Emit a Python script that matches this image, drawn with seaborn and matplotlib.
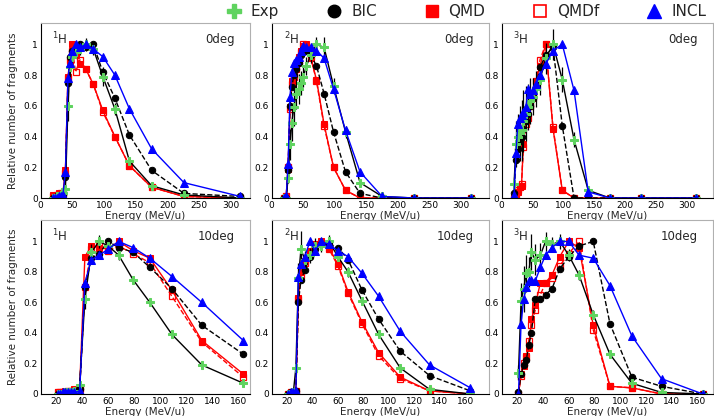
import numpy as np
import pandas as pd
import matplotlib
matplotlib.use("Agg")
import matplotlib.pyplot as plt
from matplotlib.ticker import MultipleLocator, FixedLocator
from matplotlib.lines import Line2D
import seaborn as sns

# energy bins (MeV/u)
E_top = [20, 23, 26, 29, 32, 35, 39, 43, 46, 50, 55, 62, 71, 83, 98, 117, 140, 175, 226, 315]
E_bot = [21, 23, 25, 27, 29, 31, 34, 38, 42, 47, 53, 60, 68, 79, 92, 109, 132, 164]

# 1H, 0deg
h1_0_exp = [0.0, 0.0, 0.01, 0.01, 0.02, 0.03, 0.06, 0.6, 0.85, 0.92, 0.95, 0.97, 1.0, 0.97, 0.79, 0.58, 0.24, 0.08, 0.02, 0.0]
h1_0_err = [0, 0, 0, 0, 0, 0, 0.02, 0.1, 0.06, 0.05, 0.04, 0.04, 0.04, 0.04, 0.06, 0.04, 0.02, 0.01, 0, 0]
h1_0_bic = [0.0, 0.0, 0.01, 0.01, 0.02, 0.02, 0.14, 0.75, 0.92, 0.96, 0.97, 1.0, 0.98, 1.0, 0.82, 0.65, 0.41, 0.18, 0.03, 0.01]
h1_0_qmd = [0.02, 0.02, 0.02, 0.03, 0.03, 0.03, 0.18, 0.79, 0.89, 1.0, 0.93, 0.87, 0.84, 0.74, 0.57, 0.4, 0.21, 0.07, 0.01, 0.0]
h1_0_qmdf = [0.01, 0.01, 0.02, 0.02, 0.03, 0.03, 0.16, 0.78, 0.9, 0.96, 0.82, 0.9, 0.84, 0.74, 0.56, 0.4, 0.21, 0.07, 0.01, 0.0]
h1_0_incl = [0.0, 0.0, 0.0, 0.01, 0.01, 0.02, 0.17, 0.78, 0.88, 0.96, 1.0, 0.98, 1.0, 0.97, 0.92, 0.8, 0.58, 0.32, 0.1, 0.01]

# 2H, 0deg
h2_0_exp = [0.0, 0.0, 0.13, 0.35, 0.49, 0.59, 0.68, 0.71, 0.75, 0.79, 0.86, 0.93, 1.0, 0.98, 0.73, 0.43, 0.1, 0.01, 0.0, 0.0]
h2_0_err = [0, 0, 0.03, 0.1, 0.12, 0.12, 0.1, 0.1, 0.08, 0.07, 0.06, 0.05, 0.05, 0.07, 0.05, 0.04, 0.02, 0, 0, 0]
h2_0_bic = [0.0, 0.0, 0.18, 0.6, 0.72, 0.8, 0.84, 0.88, 0.93, 0.97, 0.96, 0.93, 0.86, 0.68, 0.43, 0.17, 0.03, 0.0, 0.0, 0.0]
h2_0_qmd = [0.0, 0.01, 0.19, 0.59, 0.76, 0.79, 0.85, 0.92, 0.96, 0.99, 1.0, 0.91, 0.77, 0.48, 0.2, 0.05, 0.0, 0.0, 0.0, 0.0]
h2_0_qmdf = [0.0, 0.01, 0.2, 0.58, 0.74, 0.8, 0.84, 0.9, 0.95, 1.0, 0.99, 0.92, 0.76, 0.47, 0.2, 0.05, 0.0, 0.0, 0.0, 0.0]
h2_0_incl = [0.0, 0.01, 0.22, 0.66, 0.82, 0.88, 0.9, 0.92, 0.96, 0.99, 0.98, 0.98, 0.96, 0.91, 0.71, 0.44, 0.17, 0.01, 0.0, 0.0]

# 3H, 0deg
h3_0_exp = [0.09, 0.35, 0.4, 0.42, 0.44, 0.5, 0.55, 0.59, 0.63, 0.66, 0.71, 0.77, 0.91, 1.0, 0.77, 0.38, 0.05, 0.0, 0.0, 0.0]
h3_0_err = [0.05, 0.15, 0.15, 0.18, 0.2, 0.2, 0.18, 0.15, 0.15, 0.12, 0.12, 0.1, 0.1, 0.1, 0.08, 0.05, 0.02, 0, 0, 0]
h3_0_bic = [0.03, 0.25, 0.32, 0.37, 0.4, 0.45, 0.5, 0.55, 0.6, 0.65, 0.72, 0.85, 0.93, 0.98, 0.47, 0.0, 0.0, 0.0, 0.0, 0.0]
h3_0_qmd = [0.0, 0.02, 0.04, 0.07, 0.08, 0.35, 0.5, 0.53, 0.6, 0.65, 0.76, 0.86, 1.0, 0.45, 0.05, 0.0, 0.0, 0.0, 0.0, 0.0]
h3_0_qmdf = [0.0, 0.02, 0.05, 0.07, 0.09, 0.33, 0.48, 0.52, 0.6, 0.66, 0.76, 0.9, 1.0, 0.46, 0.05, 0.0, 0.0, 0.0, 0.0, 0.0]
h3_0_incl = [0.02, 0.29, 0.48, 0.52, 0.54, 0.56, 0.59, 0.71, 0.68, 0.7, 0.74, 0.8, 0.87, 0.96, 1.0, 0.7, 0.04, 0.0, 0.0, 0.0]

# 1H, 10deg
h1_10_exp = [0.0, 0.0, 0.0, 0.01, 0.01, 0.01, 0.02, 0.06, 0.62, 0.93, 1.0, 0.97, 0.91, 0.75, 0.6, 0.39, 0.19, 0.07]
h1_10_err = [0, 0, 0, 0, 0, 0, 0, 0.01, 0.06, 0.05, 0.04, 0.04, 0.03, 0.02, 0.02, 0.01, 0.01, 0]
h1_10_bic = [0.0, 0.0, 0.0, 0.01, 0.01, 0.01, 0.02, 0.03, 0.7, 0.89, 0.92, 1.0, 0.96, 0.93, 0.83, 0.69, 0.45, 0.26]
h1_10_qmd = [0.01, 0.01, 0.01, 0.02, 0.02, 0.02, 0.03, 0.04, 0.9, 0.97, 0.96, 0.95, 1.0, 0.94, 0.89, 0.68, 0.35, 0.13]
h1_10_qmdf = [0.01, 0.01, 0.01, 0.01, 0.02, 0.02, 0.02, 0.03, 0.7, 0.95, 0.98, 0.94, 0.97, 0.92, 0.86, 0.64, 0.34, 0.11]
h1_10_incl = [0.0, 0.0, 0.01, 0.01, 0.01, 0.01, 0.01, 0.02, 0.73, 0.88, 0.91, 0.95, 1.0, 0.96, 0.89, 0.77, 0.6, 0.35]

# 2H, 10deg
h2_10_exp = [0.0, 0.0, 0.01, 0.17, 0.76, 0.95, 0.88, 0.91, 0.97, 0.97, 1.0, 0.9, 0.8, 0.61, 0.39, 0.17, 0.03, 0.0]
h2_10_err = [0, 0, 0, 0.02, 0.1, 0.12, 0.06, 0.05, 0.05, 0.04, 0.04, 0.03, 0.03, 0.02, 0.02, 0.01, 0.01, 0]
h2_10_bic = [0.0, 0.01, 0.01, 0.02, 0.6, 0.75, 0.81, 0.9, 0.95, 0.98, 0.98, 0.96, 0.88, 0.68, 0.49, 0.28, 0.12, 0.02]
h2_10_qmd = [0.0, 0.01, 0.01, 0.02, 0.63, 0.8, 0.87, 0.94, 0.98, 1.0, 0.96, 0.85, 0.67, 0.47, 0.27, 0.11, 0.02, 0.0]
h2_10_qmdf = [0.0, 0.01, 0.01, 0.02, 0.62, 0.78, 0.86, 0.92, 0.97, 0.99, 0.95, 0.84, 0.66, 0.46, 0.25, 0.1, 0.02, 0.0]
h2_10_incl = [0.0, 0.01, 0.01, 0.02, 0.77, 0.85, 0.9, 1.0, 0.94, 1.0, 0.98, 0.94, 0.9, 0.79, 0.64, 0.41, 0.19, 0.04]

# 3H, 10deg
h3_10_exp = [0.14, 0.61, 0.69, 0.79, 0.8, 0.93, 0.88, 0.91, 1.0, 0.98, 1.0, 0.91, 0.78, 0.52, 0.26, 0.07, 0.01, 0.0]
h3_10_err = [0.05, 0.12, 0.15, 0.12, 0.1, 0.12, 0.1, 0.08, 0.06, 0.05, 0.05, 0.04, 0.03, 0.03, 0.02, 0.01, 0.01, 0]
h3_10_bic = [0.01, 0.13, 0.19, 0.22, 0.32, 0.4, 0.62, 0.62, 0.65, 0.69, 0.82, 0.9, 0.97, 1.0, 0.46, 0.11, 0.05, 0.0]
h3_10_qmd = [0.0, 0.13, 0.18, 0.25, 0.3, 0.49, 0.58, 0.73, 0.73, 0.78, 0.9, 1.0, 0.96, 0.45, 0.05, 0.04, 0.0, 0.0]
h3_10_qmdf = [0.0, 0.12, 0.2, 0.24, 0.35, 0.45, 0.55, 0.65, 0.73, 0.76, 0.84, 0.92, 1.0, 0.42, 0.05, 0.04, 0.0, 0.0]
h3_10_incl = [0.0, 0.46, 0.62, 0.7, 0.74, 0.75, 0.74, 0.83, 0.91, 0.96, 1.0, 1.0, 0.91, 0.89, 0.71, 0.38, 0.1, 0.0]

fragments = ["$^{1}$H", "$^{2}$H", "$^{3}$H"]
angles = ["0deg", "10deg"]

panels = [
    (E_top, h1_0_exp, h1_0_err, h1_0_bic, h1_0_qmd, h1_0_qmdf, h1_0_incl),
    (E_top, h2_0_exp, h2_0_err, h2_0_bic, h2_0_qmd, h2_0_qmdf, h2_0_incl),
    (E_top, h3_0_exp, h3_0_err, h3_0_bic, h3_0_qmd, h3_0_qmdf, h3_0_incl),
    (E_bot, h1_10_exp, h1_10_err, h1_10_bic, h1_10_qmd, h1_10_qmdf, h1_10_incl),
    (E_bot, h2_10_exp, h2_10_err, h2_10_bic, h2_10_qmd, h2_10_qmdf, h2_10_incl),
    (E_bot, h3_10_exp, h3_10_err, h3_10_bic, h3_10_qmd, h3_10_qmdf, h3_10_incl),
]

sns.set_theme(style="white")
plt.rcParams["font.family"] = ["DejaVu Sans"]

GREEN = "#5fd35f"
RED = "#ff0000"
BLUE = "#0000ff"

fig = plt.figure(figsize=(7.14, 4.16), dpi=100)

lefts = [0.057, 0.3805, 0.7027]
widths = [0.293, 0.305, 0.296]
bottoms = [0.524, 0.053]
heights = [0.421, 0.418]
xlims = [(0, 330), (0, 345), (0, 342), (8, 169), (8, 179), (8, 172)]

ms = 4.6
for i, (E, exp, err, bic, qmd, qmdf, incl) in enumerate(panels):
    row, col = divmod(i, 3)
    ax = fig.add_axes([lefts[col], bottoms[row], widths[col], heights[row]])
    df = pd.DataFrame({"E": E, "exp": exp, "bic": bic, "qmd": qmd, "qmdf": qmdf, "incl": incl})

    sns.lineplot(data=df, x="E", y="qmdf", ax=ax, color=RED, linestyle="--", lw=1.0,
                 marker="s", ms=ms, mfc="none", mec=RED, mew=0.9, errorbar=None)
    sns.lineplot(data=df, x="E", y="qmd", ax=ax, color=RED, lw=1.0,
                 marker="s", ms=ms, mfc=RED, mec=RED, errorbar=None)
    sns.lineplot(data=df, x="E", y="bic", ax=ax, color="black", linestyle="--", lw=1.0,
                 marker="o", ms=ms, mfc="black", mec="black", errorbar=None)
    ax.errorbar(E, exp, yerr=err, fmt="none", ecolor="black", elinewidth=0.9, capsize=0)
    sns.lineplot(data=df, x="E", y="exp", ax=ax, color="black", lw=1.0,
                 marker="P", ms=ms + 1, mfc=GREEN, mec=GREEN, errorbar=None)
    sns.lineplot(data=df, x="E", y="incl", ax=ax, color=BLUE, lw=1.0,
                 marker="^", ms=ms + 0.6, mfc=BLUE, mec=BLUE, errorbar=None)

    ax.set_xlim(*xlims[i])
    ax.set_ylim(0, 1.14)
    ax.set_yticks([0, 0.2, 0.4, 0.6, 0.8, 1.0])
    ax.set_yticklabels(["0", "0.2", "0.4", "0.6", "0.8", "1"])
    ax.yaxis.set_minor_locator(MultipleLocator(0.04))
    if row == 0:
        ax.xaxis.set_major_locator(FixedLocator([0, 50, 100, 150, 200, 250, 300]))
        ax.xaxis.set_minor_locator(MultipleLocator(10))
    else:
        ax.xaxis.set_major_locator(FixedLocator([20, 40, 60, 80, 100, 120, 140, 160]))
        ax.xaxis.set_minor_locator(MultipleLocator(10))
    ax.tick_params(which="both", direction="in", labelsize=6.5, pad=2, colors="black")
    ax.tick_params(which="major", length=4, width=0.7)
    ax.tick_params(which="minor", length=2, width=0.6)
    ax.tick_params(axis="x", which="both", top=False)
    ax.tick_params(axis="y", which="both", right=False)

    for side in ["left", "bottom"]:
        ax.spines[side].set_color("black")
        ax.spines[side].set_linewidth(0.8)
    for side in ["top", "right"]:
        ax.spines[side].set_color("#b0b0b0")
        ax.spines[side].set_linewidth(0.8)

    ax.set_xlabel("Energy (MeV/u)", fontsize=7.5, labelpad=1)
    if col == 0:
        ax.set_ylabel("Relative number of fragments", fontsize=7.5, labelpad=4)
    else:
        ax.set_ylabel("")

    ax.text(0.055, 0.955, fragments[col], transform=ax.transAxes, fontsize=8.5,
            ha="left", va="top")
    ax.text(0.93, 0.94, angles[row], transform=ax.transAxes, fontsize=8.5,
            ha="right", va="top")

handles = [
    Line2D([], [], ls="none", marker="P", ms=10, mfc=GREEN, mec=GREEN),
    Line2D([], [], ls="none", marker="o", ms=9, mfc="black", mec="black"),
    Line2D([], [], ls="none", marker="s", ms=9, mfc=RED, mec=RED),
    Line2D([], [], ls="none", marker="s", ms=9, mfc="none", mec=RED, mew=1.2),
    Line2D([], [], ls="none", marker="^", ms=10, mfc=BLUE, mec=BLUE),
]
fig.legend(handles, ["Exp", "BIC", "QMD", "QMDf", "INCL"], loc="center",
           bbox_to_anchor=(0.652, 0.972), ncol=5, frameon=False, fontsize=11,
           handletextpad=0.5, columnspacing=3.0, handlelength=1.2)

fig.savefig("out.png", dpi=100)
